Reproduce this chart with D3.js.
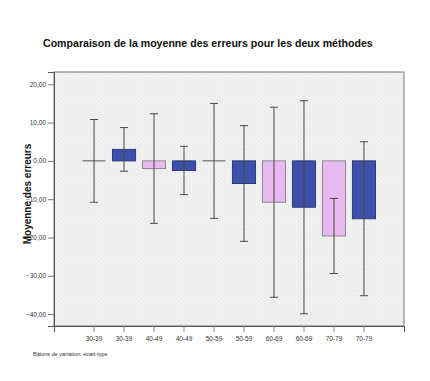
<!DOCTYPE html>
<html>
<head>
<meta charset="utf-8">
<script src="https://cdn.jsdelivr.net/npm/d3@7"></script>
<style>
  body { margin: 0; background: #fff; }
  text { font-family: "Liberation Sans", Arial, sans-serif; }
</style>
</head>
<body>
<script>
'use strict';

// chart data
const categories = ["30-39", "30-39", "40-49", "40-49", "50-59", "50-59", "60-69", "60-69", "70-79", "70-79"];
const methods = ["A", "B", "A", "B", "A", "B", "A", "B", "A", "B"];
const means = [0, 3.0, -2.0, -2.5, 0, -5.9, -10.8, -12.1, -19.6, -15.1];
const sds = [10.8, 5.7, 14.3, 6.3, 15.0, 15.1, 24.8, 27.8, 9.8, 20.1];
const yTicks = [20, 10, 0, -10, -20, -30, -40];

const colors = { A: "#e8b8f2", B: "#3c50aa" };
const strokes = { A: "#8a8a8a", B: "#2b3a7e" };

const width = 430, height = 381;
const margin = { left: 54, right: 26, top: 72, bottom: 55 };

const svg = d3.select("body").append("svg")
  .attr("width", width)
  .attr("height", height);

// dotted background pattern
const defs = svg.append("defs");
const pat = defs.append("pattern")
  .attr("id", "dots")
  .attr("width", 5).attr("height", 5)
  .attr("patternUnits", "userSpaceOnUse");
pat.append("rect").attr("width", 5).attr("height", 5).attr("fill", "#eeeeee");
pat.append("rect").attr("x", 1).attr("y", 1).attr("width", 1).attr("height", 1).attr("fill", "#fafafa");
pat.append("rect").attr("x", 3).attr("y", 3).attr("width", 1).attr("height", 1).attr("fill", "#fafafa");

const x = d3.scaleBand()
  .domain(d3.range(categories.length))
  .range([margin.left, width - margin.right])
  .paddingInner(0.23)
  .paddingOuter(0.95);

const y = d3.scaleLinear()
  .domain([-43.1, 23.2])
  .range([height - margin.bottom, margin.top]);

// plot area
svg.append("rect")
  .attr("x", margin.left)
  .attr("y", margin.top)
  .attr("width", width - margin.left - margin.right)
  .attr("height", height - margin.top - margin.bottom)
  .attr("fill", "url(#dots)")
  .attr("stroke", "#777")
  .attr("stroke-width", 1);

// y axis
const yAxis = svg.append("g")
  .attr("transform", `translate(${margin.left},0)`)
  .call(d3.axisLeft(y).tickValues(yTicks).tickSize(6).tickPadding(2)
    .tickFormat(d => d3.format(".2f")(d).replace(".", ",")));
yAxis.select(".domain").attr("stroke", "#555");
yAxis.selectAll(".tick line").attr("stroke", "#777");
yAxis.selectAll("text").attr("font-size", "6.5px").attr("fill", "#333")
  .style("font-family", "'Liberation Sans', Arial, sans-serif");

// x axis
const xAxis = svg.append("g")
  .attr("transform", `translate(0,${height - margin.bottom})`)
  .call(d3.axisBottom(x).tickSize(6).tickPadding(4).tickFormat(i => categories[i]));
xAxis.select(".domain").attr("stroke", "#555");
xAxis.selectAll(".tick line").attr("stroke", "#888");
xAxis.selectAll("text").attr("font-size", "6.5px").attr("fill", "#333")
  .style("font-family", "'Liberation Sans', Arial, sans-serif");

// bars
svg.append("g").selectAll("rect")
  .data(means.map((m, i) => ({ m, i })).filter(d => d.m !== 0))
  .join("rect")
  .attr("x", d => x(d.i))
  .attr("y", d => y(Math.max(0, d.m)))
  .attr("width", x.bandwidth())
  .attr("height", d => Math.abs(y(d.m) - y(0)))
  .attr("fill", d => colors[methods[d.i]])
  .attr("stroke", d => strokes[methods[d.i]])
  .attr("stroke-width", 1);

// zero means drawn as a flat line
svg.append("g").selectAll("line")
  .data(means.map((m, i) => ({ m, i })).filter(d => d.m === 0))
  .join("line")
  .attr("x1", d => x(d.i))
  .attr("x2", d => x(d.i) + x.bandwidth())
  .attr("y1", d => y(d.m))
  .attr("y2", d => y(d.m))
  .attr("stroke", "#555")
  .attr("stroke-width", 1);

// error bars
const cap = 4;
const eb = svg.append("g").selectAll("g")
  .data(means.map((m, i) => ({ m, s: sds[i], i })))
  .join("g")
  .attr("stroke", "#4a4a38")
  .attr("stroke-width", 1);
eb.append("line")
  .attr("x1", d => x(d.i) + x.bandwidth() / 2)
  .attr("x2", d => x(d.i) + x.bandwidth() / 2)
  .attr("y1", d => y(d.m + d.s))
  .attr("y2", d => y(d.m - d.s));
eb.append("line")
  .attr("x1", d => x(d.i) + x.bandwidth() / 2 - cap)
  .attr("x2", d => x(d.i) + x.bandwidth() / 2 + cap)
  .attr("y1", d => y(d.m + d.s))
  .attr("y2", d => y(d.m + d.s));
eb.append("line")
  .attr("x1", d => x(d.i) + x.bandwidth() / 2 - cap)
  .attr("x2", d => x(d.i) + x.bandwidth() / 2 + cap)
  .attr("y1", d => y(d.m - d.s))
  .attr("y2", d => y(d.m - d.s));

// title
svg.append("text")
  .attr("x", 43)
  .attr("y", 47)
  .attr("font-size", "10.6px")
  .attr("font-weight", "bold")
  .attr("fill", "#111")
  .text("Comparaison de la moyenne des erreurs pour les deux méthodes");

// y label
svg.append("text")
  .attr("transform", "translate(31,194)rotate(-90)")
  .attr("text-anchor", "middle")
  .attr("font-size", "10px")
  .attr("font-weight", "bold")
  .attr("fill", "#111")
  .text("Moyenne des erreurs");

// footnote
svg.append("text")
  .attr("x", 33)
  .attr("y", 356)
  .attr("font-size", "5.5px")
  .attr("fill", "#333")
  .text("Bâtons de variation: écart-type");
</script>
</body>
</html>
